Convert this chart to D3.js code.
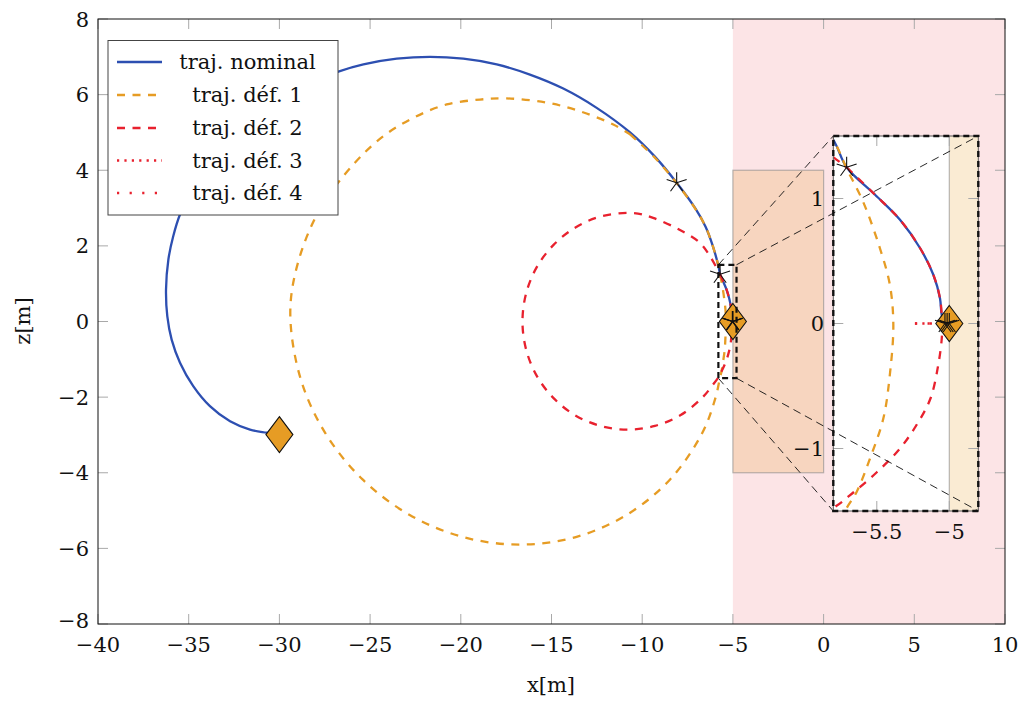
<!DOCTYPE html>
<html><head><meta charset="utf-8">
<script src="https://cdn.jsdelivr.net/npm/d3@7"></script>
<style>
body{margin:0;background:#fff}
text{font-family:"DejaVu Serif","Liberation Serif",serif;fill:#111}
</style>
</head><body>
<svg id="c" width="1024" height="702"></svg>
<script>
// ---------------- data ----------------
const xTicks = [-40,-35,-30,-25,-20,-15,-10,-5,0,5,10];
const zTicks = [-8,-6,-4,-2,0,2,4,6,8];
const insetXTicks = [-5.5,-5];
const insetZTicks = [-1,0,1];
const seriesNames = ["traj. nominal","traj. déf. 1","traj. déf. 2","traj. déf. 3","traj. déf. 4"];

const nominalX = [-30.0,-30.7,-31.62,-32.72,-33.83,-34.75,-35.48,-35.94,-36.18,-36.25,-36.12,-35.85,-35.48,-34.5,-33.0,-31.0,-29.0,-26.75,-25.37,-23.53,-21.7,-19.86,-18.02,-16.19,-14.35,-12.51,-10.67,-9.3,-8.1,-7.07,-6.5,-6.11,-5.795,-5.708,-5.512,-5.34,-5.2,-5.11,-5.064,-5.052,-5.03];
const nominalZ = [-2.99,-2.94,-2.86,-2.64,-2.24,-1.71,-1.09,-0.48,0.14,0.85,1.64,2.26,2.83,3.77,4.73,5.58,6.17,6.61,6.8,6.95,7.0,6.95,6.8,6.53,6.16,5.65,5.0,4.36,3.67,2.99,2.5,2.0,1.46,1.25,1.03,0.83,0.6,0.39,0.2,0.066,0.0];

const def1X = [-10.67,-9.3,-8.1,-7.07,-6.5,-6.11,-5.795,-5.708,-5.593,-5.478,-5.41,-5.386,-5.41,-5.455,-5.547,-5.64,-5.71,-5.95,-6.69,-8.45,-10.84,-13.66,-16.75,-19.88,-22.84,-25.43,-27.47,-28.82,-29.4,-28.99,-27.79,-25.89,-24.27,-22.6,-20.78,-18.94,-17.47,-15.27,-13.43,-11.59,-10.67];
const def1Z = [4.95,4.33,3.66,2.98,2.5,2.0,1.46,1.24,0.97,0.6,0.31,-0.01,-0.41,-0.76,-1.08,-1.35,-1.48,-2.0,-2.95,-4.17,-5.11,-5.7,-5.9,-5.7,-5.11,-4.17,-2.95,-1.53,0.2,1.53,2.95,4.17,4.9,5.39,5.74,5.87,5.9,5.79,5.56,5.21,4.95];

const def2X = [-5.708,-5.512,-5.34,-5.2,-5.11,-5.064,-5.05,-5.052,-5.076,-5.13,-5.225,-5.34,-5.5,-5.66,-5.78,-6.05,-6.7,-7.9,-9.3,-10.8,-12.3,-13.7,-14.9,-15.82,-16.4,-16.6,-16.4,-15.82,-14.9,-13.7,-12.33,-10.51,-9.4,-7.92,-6.82,-6.25,-5.8,-5.708];
const def2Z = [1.25,1.03,0.83,0.6,0.39,0.2,0.0,-0.12,-0.33,-0.6,-0.81,-1.0,-1.19,-1.35,-1.46,-1.64,-2.02,-2.48,-2.76,-2.86,-2.76,-2.48,-2.02,-1.43,-0.74,0,0.74,1.43,2.02,2.48,2.77,2.87,2.74,2.42,2.08,1.72,1.33,1.25];

const def3X = [-5.237,-5.03];
const def3Z = [0.0,0.0];
const def4X = [-5.237,-5.03];
const def4Z = [0.0,0.0];

const diamondX = [-30.0,-5.0];
const diamondZ = [-2.99,0.0];
const starX = [-8.1,-5.708,-5.03,-5.015,-5.0];
const starZ = [3.67,1.25,0.0,0.0,0.0];

const dangerX = [-5,10], dangerZ = [-8,8];
const obstacleX = [-5,0], obstacleZ = [-4,4];
const zoomX = [-5.8,-4.8], zoomZ = [-1.5,1.5];

// ---------------- styles ----------------
const BLUE="#2d4fb1", ORANGE="#e69c24", RED="#e8212e";
const FS = 21;
const series = [
  {xs:nominalX, zs:nominalZ, color:BLUE, dash:null},
  {xs:def1X, zs:def1Z, color:ORANGE, dash:"8,7.5"},
  {xs:def2X, zs:def2Z, color:RED, dash:"8,7.5"},
  {xs:def3X, zs:def3Z, color:RED, dash:"2.2,5.2"},
  {xs:def4X, zs:def4Z, color:RED, dash:"2.2,10.4"}
];

const svg = d3.select("#c");
const x = d3.scaleLinear().domain([-40,10]).range([98,1005]);
const y = d3.scaleLinear().domain([-8,8]).range([624,19]);
const xi = d3.scaleLinear().domain(zoomX).range([833.3,978.3]);
const yi = d3.scaleLinear().domain(zoomZ).range([511,136]);

const defs = svg.append("defs");
defs.append("clipPath").attr("id","clipMain").append("rect")
  .attr("x",x(-40)).attr("y",y(8)).attr("width",x(10)-x(-40)).attr("height",y(-8)-y(8));
defs.append("clipPath").attr("id","clipInset").append("rect")
  .attr("x",xi(zoomX[0])).attr("y",yi(zoomZ[1])).attr("width",xi(zoomX[1])-xi(zoomX[0])).attr("height",yi(zoomZ[0])-yi(zoomZ[1]));

function rectFrom(g, sx, sy, xs, zs){
  return g.append("rect")
    .attr("x", sx(xs[0])).attr("y", sy(zs[1]))
    .attr("width", sx(xs[1])-sx(xs[0])).attr("height", sy(zs[0])-sy(zs[1]));
}

function starPath(r){
  let p="";
  for(let k=0;k<5;k++){
    const a=Math.PI/2 + k*2*Math.PI/5;
    p+=`M0,0L${(r*Math.cos(a)).toFixed(2)},${(-r*Math.sin(a)).toFixed(2)}`;
  }
  return p;
}
const diamondPath = "M0,-18L13.5,0L0,18L-13.5,0Z";

function drawData(g, sx, sy){
  const line = d3.line().x(d=>sx(d[0])).y(d=>sy(d[1])).curve(d3.curveCatmullRom.alpha(0.5));
  series.forEach(s=>{
    const pts = s.xs.map((v,i)=>[v,s.zs[i]]);
    g.append("path").attr("d", line(pts)).attr("fill","none")
      .attr("stroke", s.color).attr("stroke-width",2.3)
      .attr("stroke-dasharray", s.dash).attr("stroke-linecap","butt").attr("stroke-linejoin","round");
  });
  diamondX.forEach((v,i)=>{
    g.append("path").attr("d",diamondPath)
      .attr("transform",`translate(${sx(v)},${sy(diamondZ[i])})`)
      .attr("fill",ORANGE).attr("stroke","#111").attr("stroke-width",1.1);
  });
  starX.forEach((v,i)=>{
    g.append("path").attr("d",starPath(10.5))
      .attr("transform",`translate(${sx(v)},${sy(starZ[i])})`)
      .attr("fill","none").attr("stroke","#111").attr("stroke-width",1.1);
  });
}

// ---------------- main plot ----------------
const main = svg.append("g").attr("clip-path","url(#clipMain)");
rectFrom(main, x, y, dangerX, dangerZ).attr("fill", RED).attr("fill-opacity",0.12);
rectFrom(main, x, y, obstacleX, obstacleZ).attr("fill", ORANGE).attr("fill-opacity",0.2)
  .attr("stroke","#8a8a8a").attr("stroke-opacity",0.6).attr("stroke-width",1.2);
drawData(main, x, y);

// frame & ticks
const tickC="#a9a9a9";
const axes = svg.append("g");
xTicks.forEach(v=>{
  axes.append("line").attr("x1",x(v)).attr("x2",x(v)).attr("y1",y(-8)).attr("y2",y(-8)-10).attr("stroke",tickC);
  axes.append("line").attr("x1",x(v)).attr("x2",x(v)).attr("y1",y(8)).attr("y2",y(8)+10).attr("stroke",tickC);
});
zTicks.forEach(v=>{
  axes.append("line").attr("x1",x(-40)).attr("x2",x(-40)+10).attr("y1",y(v)).attr("y2",y(v)).attr("stroke",tickC);
  axes.append("line").attr("x1",x(10)).attr("x2",x(10)-10).attr("y1",y(v)).attr("y2",y(v)).attr("stroke",tickC);
});
axes.append("rect").attr("x",x(-40)).attr("y",y(8)).attr("width",x(10)-x(-40)).attr("height",y(-8)-y(8))
  .attr("fill","none").attr("stroke","#111").attr("stroke-width",1);

// zoom box in main
rectFrom(svg, x, y, zoomX, zoomZ).attr("fill","none").attr("stroke","#111")
  .attr("stroke-width",2.2).attr("stroke-dasharray","6,4");

// tick labels
const fmt = v => v<0 ? "\u2212"+Math.abs(v) : String(v);
xTicks.forEach(v=>{
  axes.append("text").attr("x",x(v)).attr("y",652).attr("text-anchor","middle")
    .attr("font-size",FS).text(fmt(v));
});
zTicks.forEach(v=>{
  axes.append("text").attr("x",89).attr("y",y(v)+(v===-8?4:7.5)).attr("text-anchor","end")
    .attr("font-size",FS).text(fmt(v));
});
svg.append("text").attr("x",551).attr("y",692).attr("text-anchor","middle").attr("font-size",FS).text("x[m]");
svg.append("text").attr("transform","translate(30,321) rotate(-90)").attr("text-anchor","middle").attr("font-size",FS).text("z[m]");

// ---------------- legend ----------------
const lg = svg.append("g");
lg.append("rect").attr("x",108).attr("y",40.5).attr("width",230).attr("height",174.5)
  .attr("fill","#fff").attr("stroke","#444").attr("stroke-width",1);
const rowY=[62,95,128,160.5,193];
series.forEach((s,i)=>{
  lg.append("line").attr("x1",117).attr("x2",162).attr("y1",rowY[i]).attr("y2",rowY[i])
    .attr("stroke",s.color).attr("stroke-width",2.3).attr("stroke-dasharray",s.dash);
  lg.append("text").attr("x",247.5).attr("y",rowY[i]+7).attr("text-anchor","middle")
    .attr("font-size",FS).text(seriesNames[i]);
});

// ---------------- inset ----------------
rectFrom(svg, xi, yi, zoomX, zoomZ).attr("fill","#fff");
const inset = svg.append("g").attr("clip-path","url(#clipInset)");
rectFrom(inset, xi, yi, obstacleX, obstacleZ).attr("fill", ORANGE).attr("fill-opacity",0.2)
  .attr("stroke","#8a8a8a").attr("stroke-opacity",0.6).attr("stroke-width",1.2);
drawData(inset, xi, yi);
const ia = svg.append("g");
insetXTicks.forEach(v=>{
  ia.append("line").attr("x1",xi(v)).attr("x2",xi(v)).attr("y1",yi(-1.5)).attr("y2",yi(-1.5)-10).attr("stroke",tickC);
  ia.append("line").attr("x1",xi(v)).attr("x2",xi(v)).attr("y1",yi(1.5)).attr("y2",yi(1.5)+10).attr("stroke",tickC);
  ia.append("text").attr("x",xi(v)).attr("y",539).attr("text-anchor","middle").attr("font-size",FS)
    .text(fmt(v));
});
insetZTicks.forEach(v=>{
  ia.append("line").attr("x1",xi(-5.8)).attr("x2",xi(-5.8)+10).attr("y1",yi(v)).attr("y2",yi(v)).attr("stroke",tickC);
  ia.append("line").attr("x1",xi(-4.8)).attr("x2",xi(-4.8)-10).attr("y1",yi(v)).attr("y2",yi(v)).attr("stroke",tickC);
  ia.append("text").attr("x",824).attr("y",yi(v)+7.5).attr("text-anchor","end").attr("font-size",FS)
    .text(fmt(v));
});
rectFrom(ia, xi, yi, zoomX, zoomZ).attr("fill","none").attr("stroke","#555").attr("stroke-width",1);
rectFrom(ia, xi, yi, zoomX, zoomZ).attr("fill","none").attr("stroke","#111")
  .attr("stroke-width",2.4).attr("stroke-dasharray","6,4");

// connectors
const corners = [[0,1],[1,1],[0,0],[1,0]];
corners.forEach(([a,b])=>{
  svg.append("line")
    .attr("x1",x(zoomX[a])).attr("y1",y(zoomZ[b]))
    .attr("x2",xi(zoomX[a])).attr("y2",yi(zoomZ[b]))
    .attr("stroke","#111").attr("stroke-width",0.9).attr("stroke-dasharray","8,5");
});
</script>
</body></html>
